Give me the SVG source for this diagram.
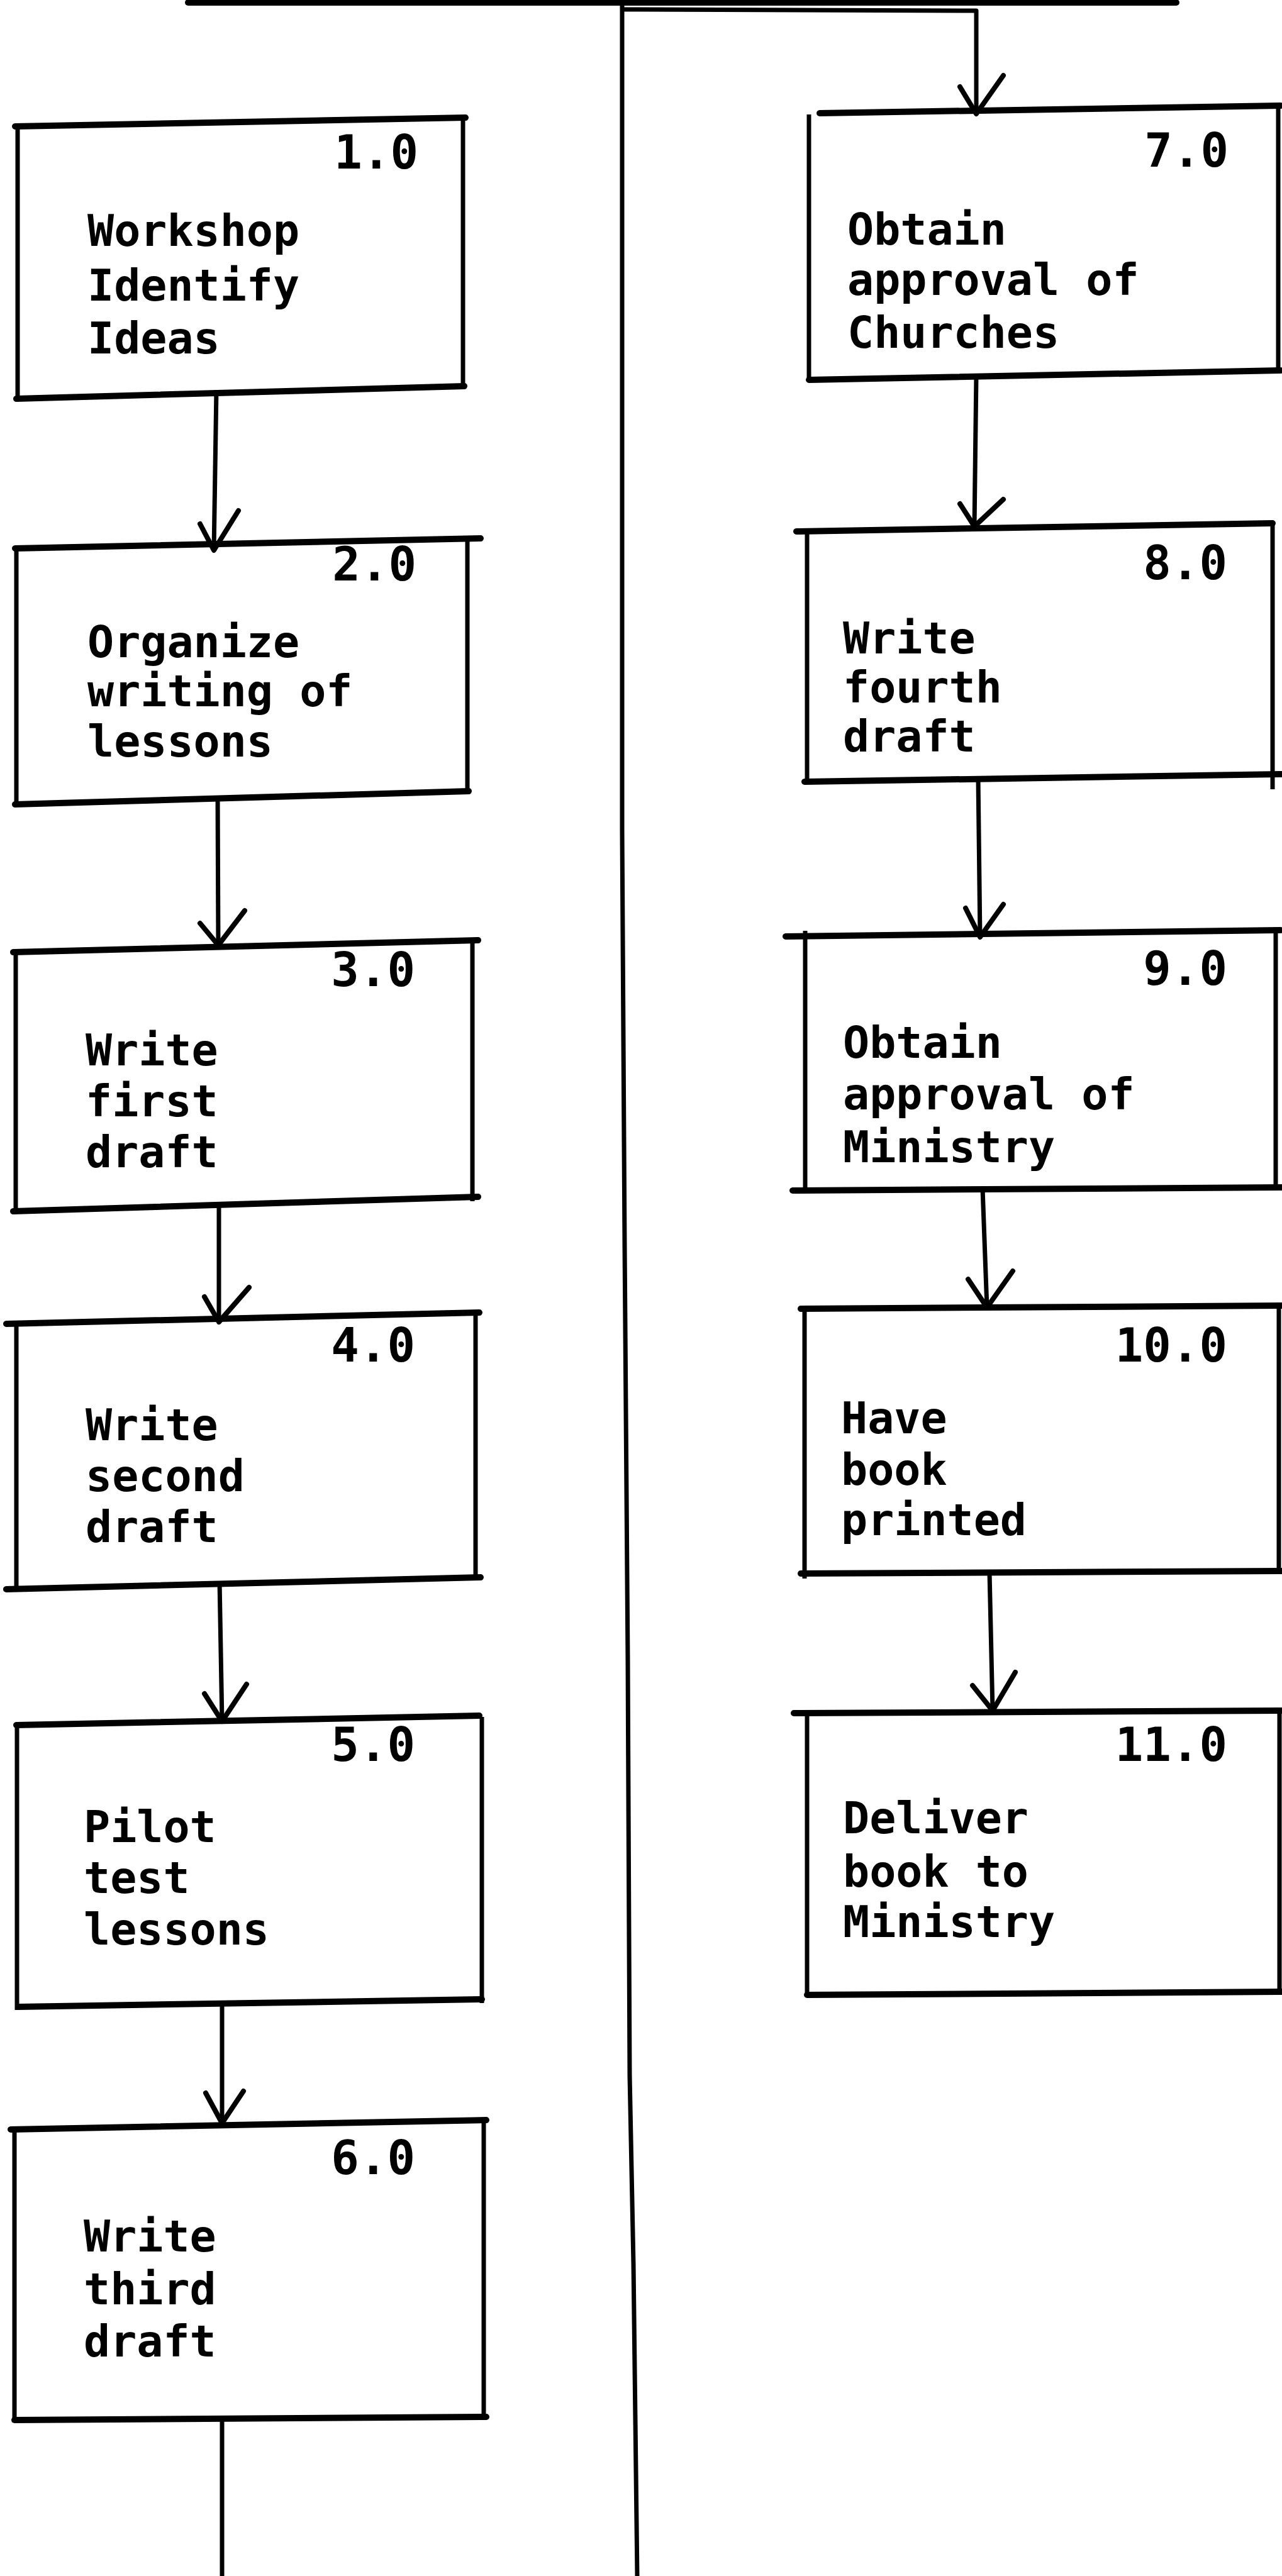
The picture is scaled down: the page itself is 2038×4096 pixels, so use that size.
<svg xmlns="http://www.w3.org/2000/svg" width="2038" height="4096" viewBox="0 0 2038 4096">
  <style>
    .bar { fill: none; stroke: #000; stroke-width: 10; stroke-linecap: round; }
    .side { fill: none; stroke: #000; stroke-width: 7; stroke-linecap: butt; }
    .wire { fill: none; stroke: #000; stroke-width: 7; stroke-linejoin: round; }
    .head { fill: none; stroke: #000; stroke-width: 8; stroke-linecap: round; stroke-linejoin: round; }
    .num { font-family: "DejaVu Sans Mono", "Liberation Mono", monospace; font-weight: bold; font-size: 74px; fill: #000; text-anchor: end; }
    .lbl { font-family: "DejaVu Sans Mono", "Liberation Mono", monospace; font-weight: bold; font-size: 70px; fill: #000; }
  </style>
  <rect width="2038" height="4096" fill="#fff"/>

  <!-- connectors -->
  <g id="connectors">
    <path class="bar" d="M299 4 L1870 4"/>
    <path class="wire" d="M989 0 L989 1320 L993 1980 L998 2640 L1001 3300 L1007 3600 L1013 4096"/>
    <path class="wire" d="M989 15 L1552 17 L1552 181"/>
    <path class="head" d="M1526 138 L1552 181 L1595 120"/>

    <path class="wire" d="M344 620 L340 875"/>
    <path class="head" d="M318 833 L340 875 L379 812"/>
    <path class="wire" d="M346 1266 L347 1503"/>
    <path class="head" d="M318 1468 L347 1503 L389 1448"/>
    <path class="wire" d="M348 1912 L348 2102"/>
    <path class="head" d="M325 2062 L348 2102 L396 2047"/>
    <path class="wire" d="M349 2514 L353 2737"/>
    <path class="head" d="M325 2693 L353 2737 L392 2678"/>
    <path class="wire" d="M353 3184 L353 3376"/>
    <path class="head" d="M327 3328 L353 3376 L387 3325"/>
    <path class="wire" d="M353 3845 L353 4096"/>

    <path class="wire" d="M1552 596 L1549 837"/>
    <path class="head" d="M1526 801 L1549 837 L1595 794"/>
    <path class="wire" d="M1555 1237 L1558 1490"/>
    <path class="head" d="M1535 1444 L1558 1490 L1595 1438"/>
    <path class="wire" d="M1562 1890 L1569 2079"/>
    <path class="head" d="M1539 2034 L1569 2079 L1610 2021"/>
    <path class="wire" d="M1573 2500 L1578 2720"/>
    <path class="head" d="M1546 2680 L1578 2720 L1614 2659"/>
  </g>

  <!-- left column -->
  <g id="node-1">
    <path class="side" d="M28 199 V636 M736 183 V616"/>
    <path class="bar" d="M24 201 L740 187 M26 634 L738 614"/>
    <text class="num" x="665" y="268">1.0</text>
    <text class="lbl"><tspan x="139" y="391">Workshop</tspan><tspan x="139" y="478">Identify</tspan><tspan x="139" y="562">Ideas</tspan></text>
  </g>
  <g id="node-2">
    <path class="side" d="M26 870 V1281 M743 857 V1260"/>
    <path class="bar" d="M24 872 L764 856 M24 1279 L745 1258"/>
    <text class="num" x="662" y="923">2.0</text>
    <text class="lbl"><tspan x="139" y="1045">Organize</tspan><tspan x="139" y="1123">writing of</tspan><tspan x="139" y="1203">lessons</tspan></text>
  </g>
  <g id="node-3">
    <path class="side" d="M25 1512 V1928 M751 1493 V1910"/>
    <path class="bar" d="M21 1514 L760 1495 M21 1926 L760 1903"/>
    <text class="num" x="660" y="1568">3.0</text>
    <text class="lbl"><tspan x="136" y="1694">Write</tspan><tspan x="136" y="1775">first</tspan><tspan x="136" y="1856">draft</tspan></text>
  </g>
  <g id="node-4">
    <path class="side" d="M26 2103 V2527 M756 2085 V2508"/>
    <path class="bar" d="M10 2105 L762 2087 M10 2527 L764 2508"/>
    <text class="num" x="660" y="2165">4.0</text>
    <text class="lbl"><tspan x="136" y="2290">Write</tspan><tspan x="136" y="2371">second</tspan><tspan x="136" y="2452">draft</tspan></text>
  </g>
  <g id="node-5">
    <path class="side" d="M27 2741 V3196 M766 2730 V3185"/>
    <path class="bar" d="M26 2743 L762 2728 M29 3191 L766 3179"/>
    <text class="num" x="660" y="2800">5.0</text>
    <text class="lbl"><tspan x="133" y="2929">Pilot</tspan><tspan x="133" y="3010">test</tspan><tspan x="133" y="3092">lessons</tspan></text>
  </g>
  <g id="node-6">
    <path class="side" d="M23 3384 V3852 M769 3371 V3845"/>
    <path class="bar" d="M17 3386 L773 3371 M23 3848 L773 3843"/>
    <text class="num" x="660" y="3457">6.0</text>
    <text class="lbl"><tspan x="133" y="3580">Write</tspan><tspan x="133" y="3664">third</tspan><tspan x="133" y="3747">draft</tspan></text>
  </g>

  <!-- right column -->
  <g id="node-7">
    <path class="side" d="M1286 182 V606 M2032 168 V592"/>
    <path class="bar" d="M1303 180 L2036 168 M1286 604 L2036 589"/>
    <text class="num" x="1953" y="265">7.0</text>
    <text class="lbl"><tspan x="1347" y="389">Obtain</tspan><tspan x="1347" y="469">approval of</tspan><tspan x="1347" y="553">Churches</tspan></text>
  </g>
  <g id="node-8">
    <path class="side" d="M1283 845 V1245 M2023 832 V1255"/>
    <path class="bar" d="M1266 845 L2023 832 M1279 1243 L2038 1231"/>
    <text class="num" x="1951" y="921">8.0</text>
    <text class="lbl"><tspan x="1340" y="1039">Write</tspan><tspan x="1340" y="1117">fourth</tspan><tspan x="1340" y="1195">draft</tspan></text>
  </g>
  <g id="node-9">
    <path class="side" d="M1280 1480 V1895 M2028 1479 V1892"/>
    <path class="bar" d="M1249 1489 L2036 1479 M1260 1893 L2038 1888"/>
    <text class="num" x="1951" y="1566">9.0</text>
    <text class="lbl"><tspan x="1340" y="1682">Obtain</tspan><tspan x="1340" y="1764">approval of</tspan><tspan x="1340" y="1848">Ministry</tspan></text>
  </g>
  <g id="node-10">
    <path class="side" d="M1279 2080 V2510 M2033 2076 V2498"/>
    <path class="bar" d="M1273 2081 L2038 2076 M1273 2502 L2038 2498"/>
    <text class="num" x="1951" y="2165">10.0</text>
    <text class="lbl"><tspan x="1337" y="2279">Have</tspan><tspan x="1337" y="2361">book</tspan><tspan x="1337" y="2441">printed</tspan></text>
  </g>
  <g id="node-11">
    <path class="side" d="M1283 2722 V3174 M2034 2720 V3170"/>
    <path class="bar" d="M1262 2724 L2038 2720 M1283 3172 L2038 3167"/>
    <text class="num" x="1951" y="2800">11.0</text>
    <text class="lbl"><tspan x="1340" y="2915">Deliver</tspan><tspan x="1340" y="3000">book to</tspan><tspan x="1340" y="3080">Ministry</tspan></text>
  </g>
</svg>
